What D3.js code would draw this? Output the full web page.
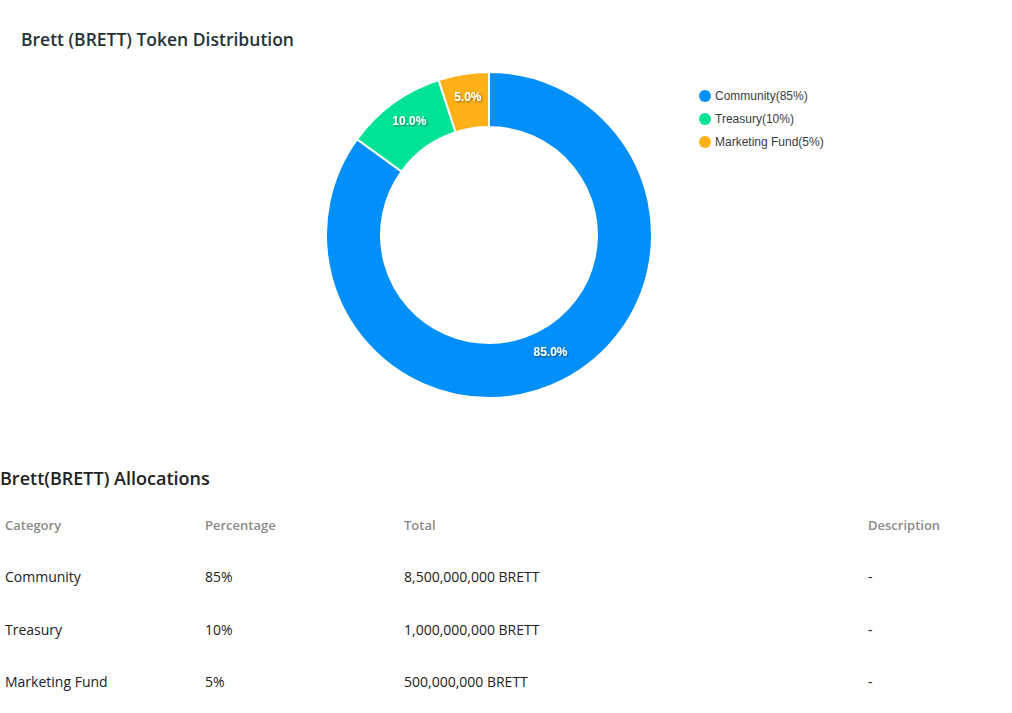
<!DOCTYPE html>
<html>
<head>
<meta charset="utf-8">
<script src="https://cdn.jsdelivr.net/npm/d3@7"></script>
<style>
  body { margin: 0; background: #fff; }
  svg { display: block; }
</style>
</head>
<body>
<svg id="chart"></svg>
<script>
// Data
const categories = ["Community", "Treasury", "Marketing Fund"];
const shares = [85, 10, 5];
const totals = ["8,500,000,000 BRETT", "1,000,000,000 BRETT", "500,000,000 BRETT"];
const descriptions = ["-", "-", "-"];
const columns = ["Category", "Percentage", "Total", "Description"];

const width = 1012, height = 713;
const colors = ["#008FFB", "#00E396", "#FEB019"];

const svg = d3.select("#chart")
    .attr("width", width)
    .attr("height", height)
    .style("background", "#fff");

// drop shadow for slice labels
const defs = svg.append("defs");
const shadow = defs.append("filter").attr("id", "shadow")
    .attr("x", "-20%").attr("y", "-30%").attr("width", "140%").attr("height", "160%");
shadow.append("feDropShadow")
    .attr("dx", 1).attr("dy", 1).attr("stdDeviation", 1)
    .attr("flood-color", "#000").attr("flood-opacity", 0.5);

// Title
svg.append("text")
    .attr("x", 21)
    .attr("y", 46)
    .style("font-family", "'Open Sans', sans-serif")
    .style("font-size", "17.5px")
    .style("font-weight", 600)
    .style("fill", "#263238")
    .text("Brett (BRETT) Token Distribution");

// Donut
const cx = 489, cy = 235;
const outerR = 163, innerR = 108;

const pie = d3.pie().sort(null).value(d => d);
const arc = d3.arc().innerRadius(innerR).outerRadius(outerR);
const labelArc = d3.arc().innerRadius((innerR + outerR) / 2).outerRadius((innerR + outerR) / 2);

const g = svg.append("g").attr("transform", `translate(${cx},${cy})`);
const arcs = pie(shares);

g.selectAll("path")
    .data(arcs)
    .enter().append("path")
    .attr("d", arc)
    .attr("fill", (d, i) => colors[i])
    .attr("stroke", "#fff")
    .attr("stroke-width", 2);

g.selectAll("text.lbl")
    .data(arcs)
    .enter().append("text")
    .attr("class", "lbl")
    .attr("transform", d => `translate(${labelArc.centroid(d)})`)
    .attr("text-anchor", "middle")
    .attr("dy", "0em")
    .attr("filter", "url(#shadow)")
    .style("font-family", "Arial, 'Liberation Sans', sans-serif")
    .style("font-size", "12px")
    .style("font-weight", "bold")
    .style("fill", "#fff")
    .text(d => d.data.toFixed(1) + "%");

// Legend
const legend = svg.selectAll(".legend")
    .data(categories)
    .enter().append("g")
    .attr("class", "legend")
    .attr("transform", (d, i) => `translate(705,${96 + i * 23})`);

legend.append("circle")
    .attr("r", 6)
    .attr("fill", (d, i) => colors[i]);

legend.append("text")
    .attr("x", 10)
    .attr("dy", "0.35em")
    .style("font-family", "Arial, 'Liberation Sans', sans-serif")
    .style("font-size", "12px")
    .style("fill", "#373d3f")
    .text((d, i) => `${d}(${shares[i]}%)`);

// Allocations table
svg.append("text")
    .attr("x", 0)
    .attr("y", 485)
    .style("font-family", "'Open Sans', sans-serif")
    .style("font-size", "18px")
    .style("font-weight", 600)
    .style("fill", "#222")
    .text("Brett(BRETT) Allocations");

const colX = [5, 205, 404, 868];
const rowY = [577, 630, 682];

svg.selectAll(".head")
    .data(columns)
    .enter().append("text")
    .attr("class", "head")
    .attr("x", (d, i) => colX[i])
    .attr("y", 530)
    .style("font-family", "'Open Sans', sans-serif")
    .style("font-size", "13px")
    .style("font-weight", 600)
    .style("fill", "#8a8a8a")
    .text(d => d);

const rows = categories.map((c, i) => [c, shares[i] + "%", totals[i], descriptions[i]]);

const row = svg.selectAll(".row")
    .data(rows)
    .enter().append("g")
    .attr("class", "row")
    .attr("transform", (d, i) => `translate(0,${rowY[i] + 5})`);

row.selectAll("text")
    .data(d => d)
    .enter().append("text")
    .attr("x", (d, i) => colX[i])
    .style("font-family", "'Open Sans', sans-serif")
    .style("font-size", "14px")
    .style("font-weight", 500)
    .style("fill", "#222")
    .text(d => d);
</script>
</body>
</html>
